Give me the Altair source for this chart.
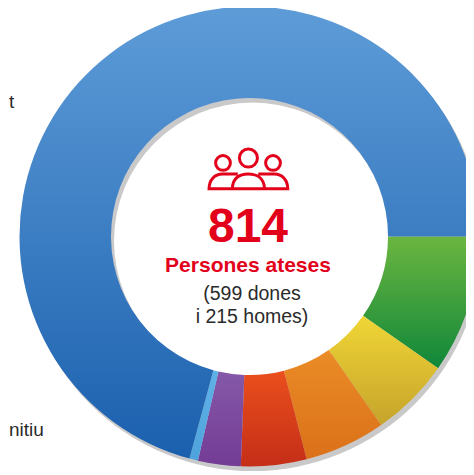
import altair as alt
import pandas as pd

categories = ["verd", "groc", "taronja", "vermell", "lila", "blau clar", "blau"]
values = [9.7, 5.6, 5.7, 4.6, 3.0, 0.6, 70.8]
order = [0, 1, 2, 3, 4, 5, 6]
tops = ["#6bb640", "#f0d636", "#ea8c26", "#ea4f1c", "#8558a9", "#5fb2e8", "#5e9cd8"]
bottoms = ["#10873a", "#c6a32b", "#db7019", "#c52e18", "#733c95", "#4fa3dc", "#1b60ae"]

W, H = 458, 467
CX, CY = 241.5, 228.5
R, R2 = 230, 138.5
RED = "#e2001a"
DARK = "#2a2a2a"
SANS = "Liberation Sans"

df = pd.DataFrame({"cat": categories, "v": values, "o": order})
theta_scale = alt.Scale(domain=[0, 100], range=[1.5708, 7.854])

base = alt.Chart(df).transform_stack(
    stack="v", as_=["s", "e"], groupby=[], sort=[alt.SortField("o", order="ascending")]
)

shadow_df = pd.DataFrame({"s": [0], "e": [sum(values)]})
shadow = alt.Chart(shadow_df).mark_arc(radius=R, radius2=R2, color="#c9c9c9").encode(
    theta=alt.Theta("s:Q", scale=theta_scale),
    theta2="e:Q",
    x=alt.value(CX + 3),
    y=alt.value(CY + 4.5),
)

layers = [shadow]
for c, t, b in zip(categories, tops, bottoms):
    grad = alt.LinearGradient(
        gradient="linear",
        stops=[alt.GradientStop(color=t, offset=0), alt.GradientStop(color=b, offset=1)],
        x1=0, x2=0, y1=0, y2=1,
    )
    layers.append(
        base.transform_filter(alt.datum.cat == c)
        .mark_arc(radius=R, radius2=R2, color=grad)
        .encode(
            theta=alt.Theta("s:Q", scale=theta_scale),
            theta2="e:Q",
            x=alt.value(CX),
            y=alt.value(CY),
        )
    )

icon_path = (
    "M -0.79 -0.22 A 0.18 0.18 0 1 0 -0.43 -0.22 A 0.18 0.18 0 1 0 -0.79 -0.22 Z "
    "M -0.21 -0.34 A 0.22 0.22 0 1 0 0.23 -0.34 A 0.22 0.22 0 1 0 -0.21 -0.34 Z "
    "M 0.43 -0.22 A 0.18 0.18 0 1 0 0.79 -0.22 A 0.18 0.18 0 1 0 0.43 -0.22 Z "
    "M -0.38 0.41 C -0.38 0.14 -0.2 0.05 0 0.05 C 0.2 0.05 0.4 0.14 0.4 0.41 Z "
    "M -0.38 0.41 L -0.95 0.41 C -0.95 0.2 -0.82 0.05 -0.62 0.05 L -0.25 0.05 "
    "M 0.4 0.41 L 0.97 0.41 C 0.97 0.2 0.84 0.05 0.64 0.05 L 0.25 0.05"
)
icon = alt.Chart(pd.DataFrame({"k": ["persones"]})).mark_point(
    shape=icon_path, filled=False, stroke=RED, strokeWidth=3, size=6724, opacity=1
).encode(x=alt.value(240), y=alt.value(164))


def label(text, x, y, size, color, weight="normal", align="center", font=SANS):
    return alt.Chart(pd.DataFrame({"t": [text]})).mark_text(
        font=font, fontSize=size, fontWeight=weight, color=color, align=align, baseline="alphabetic"
    ).encode(text="t:N", x=alt.value(x), y=alt.value(y))


texts = [
    label("814", 240, 234, 48, RED, "bold"),
    label("Persones ateses", 240, 264, 21, RED, "bold"),
    label("(599 dones", 244, 292, 19.5, DARK),
    label("i 215 homes)", 244, 315, 19.5, DARK),
    label("nitiu", 1, 428, 19, DARK, align="left"),
    label("t", 1, 100, 19, DARK, align="left"),
]

chart = alt.layer(*layers, icon, *texts).properties(
    width=W, height=H, padding=0, autosize=alt.AutoSizeParams(type="none"),
).configure_view(stroke=None)

chart.save("out.html", embed_options={"renderer": "svg", "actions": False})
